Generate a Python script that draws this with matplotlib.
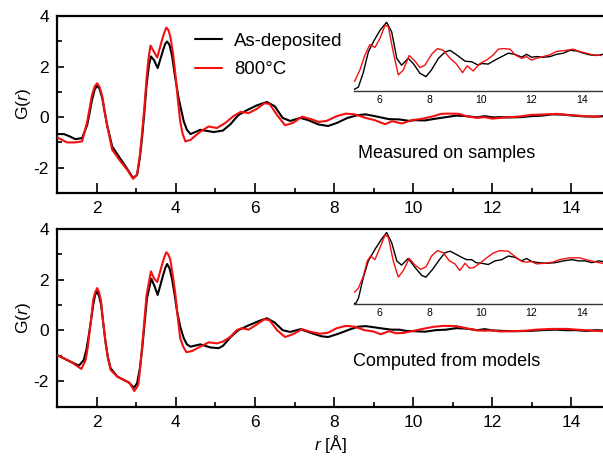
import matplotlib
matplotlib.use("Agg")
import matplotlib.pyplot as plt
from matplotlib.ticker import MultipleLocator

plt.rcParams['font.family'] = ['Liberation Sans', 'DejaVu Sans']
plt.rcParams['axes.unicode_minus'] = False
plt.rcParams['mathtext.fontset'] = 'custom'
plt.rcParams['mathtext.it'] = 'Liberation Sans:italic'
plt.rcParams['mathtext.rm'] = 'Liberation Sans'

# ---------------- data ----------------
r_meas_dep = [1.0, 1.17, 1.3, 1.46, 1.63, 1.76, 1.82, 1.88, 1.95, 2.01, 2.07, 2.14, 2.20, 2.26,
              2.39, 2.56, 2.73, 2.92, 3.02, 3.09, 3.15, 3.21, 3.26, 3.32, 3.37, 3.45, 3.54, 3.68,
              3.73, 3.78, 3.84, 3.90, 3.98, 4.07, 4.20, 4.28, 4.37, 4.62, 4.96,
              5.19, 5.38, 5.58, 5.78, 6.04, 6.30, 6.50, 6.70, 6.89, 7.15, 7.35, 7.61,
              7.85, 8.07, 8.34, 8.60, 8.80, 9.06, 9.39, 9.65, 9.91, 10.04, 10.30, 10.57, 10.83,
              11.09, 11.35, 11.62, 11.81, 12.01, 12.21, 12.47, 12.73, 12.99, 13.26, 13.52, 13.78,
              14.05, 14.31, 14.57, 14.81]
g_meas_dep = [-0.67, -0.67, -0.75, -0.87, -0.83, -0.30, 0.18, 0.68, 1.10, 1.25, 1.12, 0.75, 0.20,
              -0.30, -1.16, -1.56, -1.95, -2.41, -2.28, -1.6, -0.74, 0.3, 1.28, 2.05, 2.40, 2.25,
              1.94, 2.66, 2.90, 2.99, 2.85, 2.46, 1.6, 0.75, -0.17, -0.5, -0.67, -0.50, -0.59,
              -0.53, -0.28, 0.08, 0.26, 0.46, 0.60, 0.43, -0.03,
              -0.15, -0.03, -0.12, -0.29, -0.35, -0.23, -0.03, 0.08, 0.11, 0.03, -0.08, -0.09,
              -0.15, -0.12, -0.13, -0.06, 0.0, 0.06, 0.04, -0.01, 0.04, -0.01, 0.0, -0.01, 0.0,
              0.04, 0.06, 0.11, 0.10, 0.06, 0.03, 0.02, 0.04]

r_meas_800 = [1.0, 1.25, 1.45, 1.63, 1.76, 1.82, 1.88, 1.95, 2.01, 2.07, 2.14, 2.20, 2.26, 2.39,
              2.60, 2.77, 2.92, 3.02, 3.09, 3.15, 3.21, 3.26, 3.31, 3.36, 3.44, 3.53, 3.65, 3.71,
              3.76, 3.81, 3.86, 3.93, 3.99, 4.05, 4.11, 4.17, 4.24, 4.37, 4.62, 4.83, 5.04,
              5.25, 5.45, 5.64, 5.84, 6.04, 6.24, 6.37, 6.56, 6.76, 6.96,
              7.19, 7.42, 7.61, 7.81, 8.07, 8.30, 8.53, 8.80, 9.03, 9.29, 9.47, 9.71, 9.97, 10.24,
              10.5, 10.7, 10.9, 11.16, 11.36, 11.62, 11.81, 12.0, 12.2, 12.46, 12.72, 12.98,
              13.38, 13.64, 13.9, 14.16, 14.42, 14.75]
g_meas_800 = [-0.80, -1.0, -1.0, -0.96, -0.17, 0.35, 0.88, 1.22, 1.34, 1.20, 0.82, 0.25, -0.30,
              -1.29, -1.75, -2.08, -2.44, -2.28, -1.5, -0.57, 0.5, 1.54, 2.35, 2.83, 2.60, 2.36,
              3.05, 3.35, 3.54, 3.45, 3.19, 2.5, 1.67, 0.7, -0.17, -0.65, -0.96, -0.90, -0.57,
              -0.37, -0.43,
              -0.23, 0.03, 0.21, 0.16, 0.32, 0.55, 0.52,
              0.08, -0.32, -0.23, 0.02, -0.08, -0.19, -0.15, 0.04, 0.14, 0.11, -0.03, -0.12,
              -0.28, -0.16, -0.25, -0.12, -0.06, 0.03, 0.13, 0.14, 0.13, 0.03, -0.03, 0.0, -0.06,
              -0.03, 0.0, 0.03, 0.09, 0.11, 0.13, 0.09, 0.06, 0.03, 0.02]

r_comp_dep = [1.0, 1.25, 1.55, 1.67, 1.74, 1.80, 1.86, 1.91, 1.96, 2.01, 2.06, 2.11, 2.16, 2.22,
              2.28, 2.35, 2.52, 2.68, 2.81, 2.94, 3.02, 3.09, 3.15, 3.21, 3.27, 3.38, 3.46, 3.54,
              3.68, 3.73, 3.78, 3.84, 3.90, 3.97, 4.03, 4.11, 4.20, 4.28, 4.37, 4.62, 4.87, 5.08,
              5.19, 5.38, 5.58, 5.84, 6.10, 6.30, 6.50, 6.70, 6.89, 7.15, 7.42, 7.68, 7.85,
              8.11, 8.38, 8.60, 8.80, 9.03, 9.25, 9.45, 9.65, 9.82, 10.04, 10.30, 10.57, 10.83,
              11.09, 11.35, 11.62, 11.81, 12.01, 12.28, 12.60, 12.93, 13.26, 13.59, 13.85, 14.11,
              14.38, 14.64, 14.81]
g_comp_dep = [-0.97, -1.17, -1.39, -1.17, -0.75, -0.18, 0.45, 1.01, 1.40, 1.54, 1.35, 1.01, 0.35,
              -0.44, -1.05, -1.49, -1.82, -1.95, -2.05, -2.26, -2.08, -1.5, -0.70, 0.3, 1.27,
              2.04, 1.75, 1.40, 2.19, 2.45, 2.62, 2.45, 2.06, 1.4, 0.75, 0.15, -0.31, -0.55,
              -0.64, -0.55, -0.67, -0.70,
              -0.61, -0.27, 0.01, 0.20, 0.37, 0.48, 0.31, 0.01, -0.06,
              0.05, -0.10, -0.23, -0.26, -0.13, 0.03, 0.145, 0.17, 0.12, 0.07, 0.03, 0.03, -0.02,
              -0.03, -0.05, 0.01, 0.03, 0.09, 0.07, 0.01, 0.05, 0.0, -0.02, -0.03, -0.02, 0.01,
              0.03, 0.01, 0.01, -0.02, 0.01, 0.0]

r_comp_800 = [1.0, 1.34, 1.61, 1.72, 1.77, 1.82, 1.87, 1.91, 1.96, 2.01, 2.06, 2.11, 2.16, 2.22,
              2.28, 2.35, 2.52, 2.68, 2.83, 2.95, 3.05, 3.10, 3.15, 3.21, 3.26, 3.37, 3.45, 3.53,
              3.65, 3.71, 3.76, 3.81, 3.86, 3.93, 3.99, 4.05, 4.11, 4.19, 4.27, 4.41, 4.62, 4.83,
              5.04, 5.19, 5.38, 5.54, 5.67, 5.84, 6.04, 6.24, 6.37, 6.56, 6.76, 6.96, 7.19,
              7.42, 7.64, 7.85, 8.07, 8.30, 8.53, 8.77, 8.99, 9.18, 9.39, 9.56, 9.74, 9.97, 10.24,
              10.5, 10.76, 11.09, 11.36, 11.62, 11.81, 12.0, 12.2, 12.5, 12.85, 13.1, 13.5, 13.9,
              14.15, 14.55, 14.8]
g_comp_800 = [-0.97, -1.23, -1.52, -1.17, -0.7, -0.04, 0.6, 1.21, 1.5, 1.67, 1.5, 1.14, 0.35,
              -0.44, -1.05, -1.56, -1.82, -1.95, -2.08, -2.39, -2.15, -1.45, -0.57, 0.5, 1.40,
              2.33, 2.05, 1.91, 2.59, 2.9, 3.08, 3.0, 2.79, 2.1, 1.40, 0.5, -0.31, -0.65, -0.86,
              -0.81, -0.64, -0.47, -0.51,
              -0.44, -0.25, 0.01, 0.09, 0.03, 0.23, 0.44, 0.40,
              0.01, -0.26, -0.15, 0.05, -0.06, -0.13, -0.09, 0.09, 0.18, 0.145, 0.01, -0.04,
              -0.15, -0.03, -0.11, -0.10, -0.03, 0.06, 0.14, 0.18, 0.17, 0.08, 0.0, -0.01, 0.0,
              -0.04, -0.03, -0.01, 0.03, 0.06, 0.06, 0.03, -0.01, -0.03]

series_labels = ["As-deposited", "800°C"]
panel_notes = ["Measured on samples", "Computed from models"]
x_ticks = [2, 4, 6, 8, 10, 12, 14]
y_ticks = [-2, 0, 2, 4]
inset_ticks = [6, 8, 10, 12, 14]

# ---------------- figure ----------------
W, H = 603, 458
fig = plt.figure(figsize=(W / 100, H / 100), dpi=100)

def fx(px):
    return px / W

def fy(py):
    return 1 - py / H

RED = '#f21010'
panels = [
    dict(top=16, bot=193, data=[(r_meas_dep, g_meas_dep), (r_meas_800, g_meas_800)],
         note=panel_notes[0], note_y=0.225, inset_top=16.5, inset_bot=91, inset_ylim=(-0.60, 0.70)),
    dict(top=229, bot=406.5, data=[(r_comp_dep, g_comp_dep), (r_comp_800, g_comp_800)],
         note=panel_notes[1], note_y=0.256, inset_top=229.5, inset_bot=304.3, inset_ylim=(-0.71, 0.53)),
]

left_px = 57.2
for i, p in enumerate(panels):
    ax = fig.add_axes([fx(left_px), fy(p['bot']), fx(W - left_px), (p['bot'] - p['top']) / H])
    (r1, g1), (r2, g2) = p['data']
    ax.plot(r1, g1, color='black', lw=1.5, label=series_labels[0], zorder=3,
            solid_joinstyle='round', solid_capstyle='round')
    ax.plot(r2, g2, color=RED, lw=1.5, label=series_labels[1], zorder=4,
            solid_joinstyle='round', solid_capstyle='round')
    ax.set_xlim(1, 14.8)
    ax.set_ylim(-3, 4)
    ax.set_xticks(x_ticks)
    ax.set_yticks(y_ticks)
    ax.xaxis.set_minor_locator(MultipleLocator(1))
    ax.yaxis.set_minor_locator(MultipleLocator(1))
    ax.tick_params(which='major', direction='in', length=7, width=1.2, labelsize=12.5, pad=6)
    ax.tick_params(which='minor', direction='in', length=3.5, width=1.2)
    ax.tick_params(axis='y', which='major', length=5)
    for s in ['left', 'bottom', 'top']:
        ax.spines[s].set_linewidth(1.6)
    ax.spines['right'].set_visible(False)
    ax.set_ylabel(r'G($\mathit{r}$)', fontsize=12.5, labelpad=0)
    ax.text(0.714, p['note_y'], p['note'], transform=ax.transAxes, ha='center', va='center',
            fontsize=13)
    if i == 0:
        ax.legend(loc='upper left', bbox_to_anchor=(0.252, 0.905), frameon=False, fontsize=13.4,
                  handlelength=1.45, handletextpad=0.65, labelspacing=0.62, borderpad=0,
                  borderaxespad=0)
    else:
        ax.set_xlabel(r'$\mathit{r}$ [Å]', fontsize=12.5, labelpad=2)

    # inset
    ia = fig.add_axes([fx(353.6), fy(p['inset_bot']), fx(602.5 - 353.6),
                       (p['inset_bot'] - p['inset_top']) / H])
    ia.patch.set_alpha(0)
    ia.plot(r1, g1, color='black', lw=1.0, zorder=3, solid_joinstyle='round')
    ia.plot(r2, g2, color=RED, lw=1.0, zorder=4, solid_joinstyle='round')
    ia.set_xlim(5, 14.8)
    ia.set_ylim(*p['inset_ylim'])
    ia.set_xticks(inset_ticks)
    ia.set_yticks([])
    ia.tick_params(axis='x', length=0, labelsize=7.5, pad=3)
    for s in ['left', 'right', 'top']:
        ia.spines[s].set_visible(False)
    ia.spines['bottom'].set_linewidth(1.0)
    ia.spines['bottom'].set_color('#333333')

fig.savefig('out.png', dpi=100)
